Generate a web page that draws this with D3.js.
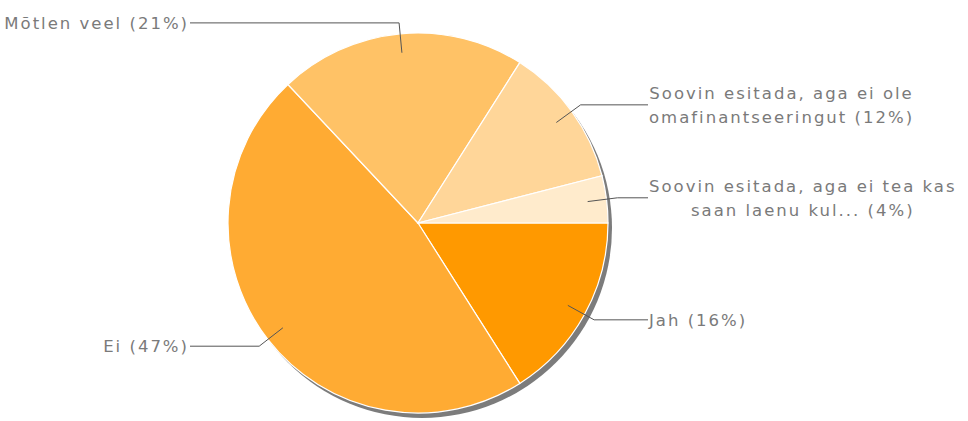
<!DOCTYPE html>
<html>
<head>
<meta charset="utf-8">
<script src="https://cdn.jsdelivr.net/npm/d3@7/dist/d3.min.js"></script>
<style>
  body { margin: 0; background: #fff; }
  svg { display: block; }
</style>
</head>
<body>
<div id="chart"></div>
<script>
// slice data, clockwise from 3 o'clock
const labels = [
    ["Jah (16%)"],
    ["Ei (47%)"],
    ["Mõtlen veel (21%)"],
    ["Soovin esitada, aga ei ole", "omafinantseeringut (12%)"],
    ["Soovin esitada, aga ei tea kas", "saan laenu kul... (4%)"]
];
const values = [16, 47, 21, 12, 4];
const colors = ["#ff9900", "#ffab33", "#ffc266", "#ffd699", "#ffebcc"];

const width = 968, height = 421;
const cx = 418, cy = 223, radius = 190;

const svg = d3.select("#chart").append("svg")
    .attr("width", width)
    .attr("height", height);

const defs = svg.append("defs");
defs.append("filter")
    .attr("id", "blur")
    .append("feGaussianBlur")
    .attr("stdDeviation", 0.6);

const g = svg.append("g")
    .attr("transform", `translate(${cx},${cy})`);

// shadow
g.append("circle")
    .attr("cx", 4)
    .attr("cy", 5)
    .attr("r", radius)
    .attr("fill", "#7c7c7c")
    .attr("filter", "url(#blur)");

const pie = d3.pie()
    .sort(null)
    .startAngle(Math.PI / 2)
    .endAngle(Math.PI / 2 + 2 * Math.PI)
    .value(d => d);

const arcs = pie(values);

const arc = d3.arc()
    .innerRadius(0)
    .outerRadius(radius);

g.selectAll("path.slice")
    .data(arcs)
    .join("path")
    .attr("class", "slice")
    .attr("d", arc)
    .attr("fill", (d, i) => colors[i])
    .attr("stroke", "#fff")
    .attr("stroke-width", 1.2);

// leader lines + labels
const inner = d3.arc().innerRadius(radius * 0.9).outerRadius(radius * 0.9);
const outer = d3.arc().innerRadius(radius + 11).outerRadius(radius + 11);
const rightOffset = 230, leftOffset = 228;
const lineHeight = 24;

arcs.forEach((d, i) => {
    const p1 = inner.centroid(d);
    const p2 = outer.centroid(d);
    const mid = (d.startAngle + d.endAngle) / 2;
    const right = Math.sin(mid) > 0;
    const xEnd = right ? rightOffset : -leftOffset;

    g.append("polyline")
        .attr("points", [p1, p2, [xEnd, p2[1]]].map(p => p.join(",")).join(" "))
        .attr("fill", "none")
        .attr("stroke", "#555")
        .attr("stroke-width", 1);

    const lines = labels[i];
    const text = g.append("text")
        .attr("fill", "#7a7a7a")
        .style("font-family", "DejaVu Sans, sans-serif")
        .style("font-size", "16.5px")
        .style("letter-spacing", "2px")
        .attr("text-anchor", right ? "start" : "end");

    const startY = p2[1] - (lines.length - 1) * lineHeight / 2;
    lines.forEach((t, j) => {
        text.append("tspan")
            .attr("x", xEnd + (right ? 1 : -1))
            .attr("y", startY + j * lineHeight)
            .attr("dy", "0.35em")
            .text(t);
    });

    // centre multi-line labels on their widest line
    if (lines.length > 1) {
        const spans = text.selectAll("tspan").nodes();
        const widths = spans.map(s => s.getComputedTextLength());
        const maxW = d3.max(widths);
        spans.forEach((s, j) => {
            d3.select(s).attr("x", xEnd + 1 + (maxW - widths[j]) / 2);
        });
    }
});
</script>
</body>
</html>
